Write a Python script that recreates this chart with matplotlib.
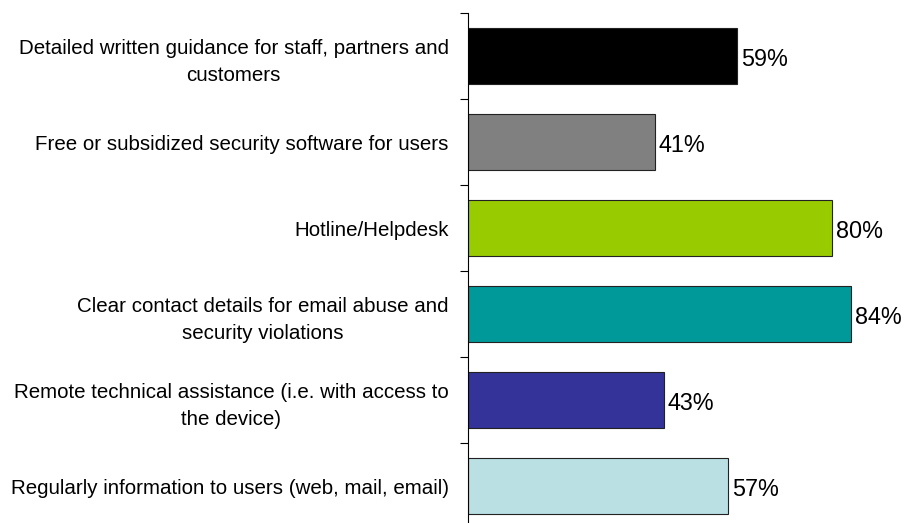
import matplotlib
matplotlib.use("Agg")
import matplotlib.pyplot as plt
import numpy as np

plt.rcParams['font.family'] = ['Liberation Sans', 'DejaVu Sans']

categories = [
    "Detailed written guidance for staff, partners and\ncustomers",
    "Free or subsidized security software for users",
    "Hotline/Helpdesk",
    "Clear contact details for email abuse and\nsecurity violations",
    "Remote technical assistance (i.e. with access to\nthe device)",
    "Regularly information to users (web, mail, email)",
]
values = [59, 41, 80, 84, 43, 57]
colors = ["#000000", "#808080", "#99CC00", "#009999", "#333399", "#BBE0E3"]

fig = plt.figure(figsize=(9.06, 5.23), dpi=100)
ax = fig.add_axes([468 / 906, -6 / 523, 432.7 / 906, 516 / 523])

y = np.arange(len(categories))
ax.barh(y, values, height=0.66, color=colors, edgecolor="#222222", linewidth=0.8)

for yi, v in zip(y, values):
    ax.text(v + 0.9, yi + 0.04, f"{v}%", va="center", ha="left", fontsize=16.8)

ax.set_xlim(0, 95)
ax.set_ylim(len(categories) - 0.5, -0.5)

# boundary ticks on the axis, labels at the bar centres
ax.set_yticks(np.arange(-0.5, len(categories), 1.0))
ax.set_yticklabels([])
ax.set_yticks(y, minor=True)
ax.set_yticklabels(categories, minor=True, fontsize=14.8,
                   multialignment="center", linespacing=1.55)
ax.tick_params(axis="y", which="major", length=6, width=0.8, direction="out")
ax.tick_params(axis="y", which="minor", length=0, pad=14)
ax.set_xticks([])

for s in ["top", "right", "bottom"]:
    ax.spines[s].set_visible(False)
ax.spines["left"].set_linewidth(0.8)

fig.savefig("out.png", dpi=100)
